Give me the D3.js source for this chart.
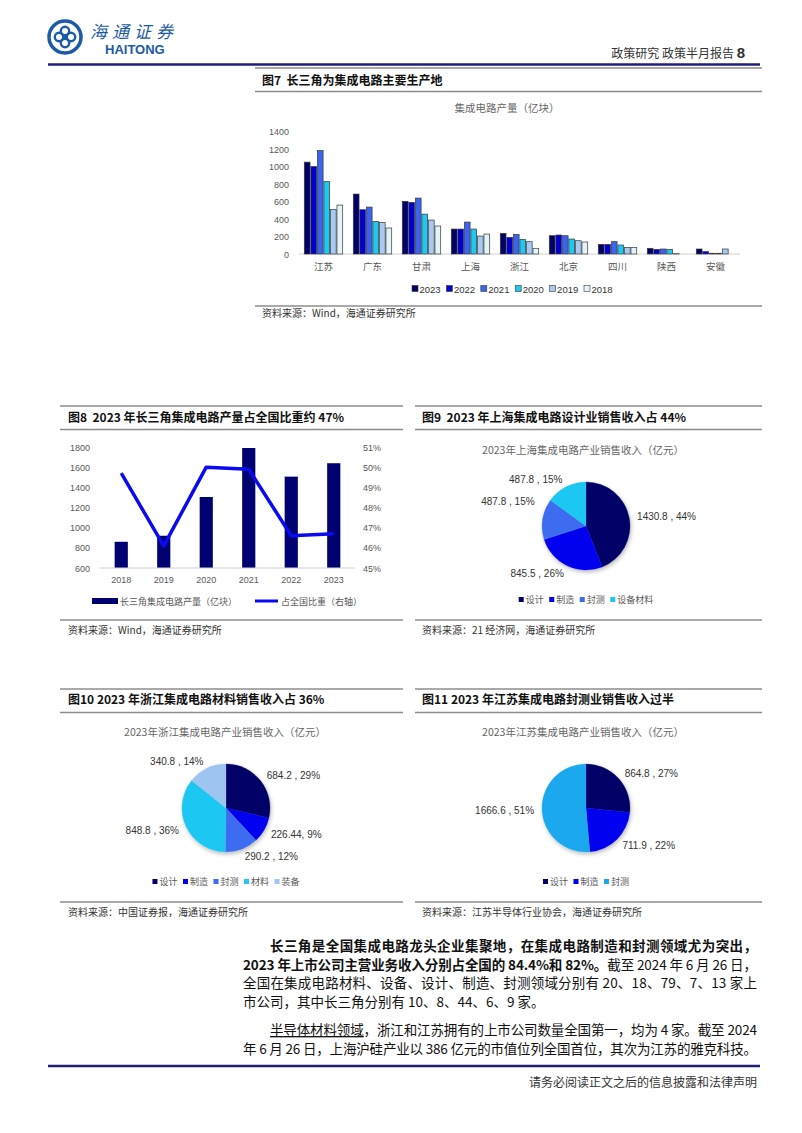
<!DOCTYPE html>
<html><head><meta charset="utf-8">
<script src="https://cdn.jsdelivr.net/npm/d3@7"></script>
<style>
body{margin:0;background:#fff;}
svg{display:block;}
text{font-family:"Liberation Sans","Noto Sans CJK SC",sans-serif;white-space:pre;}
.cjk{font-family:"Noto Sans CJK SC","Liberation Sans",sans-serif;}
</style></head><body>
<svg id="page" width="802" height="1133"></svg>
<script>
// ---------------- DATA ----------------
// Fig 7
const provinces = ["江苏","广东","甘肃","上海","浙江","北京","四川","陕西","安徽"];
const years7 = ["2023","2022","2021","2020","2019","2018"];
const out2023 = [1050,685,601,285,236,209,110,65,57];
const out2022 = [1000,506,590,285,190,217,110,53,27];
const out2021 = [1183,536,639,365,224,209,141,57,8];
const out2020 = [829,373,456,285,167,171,103,53,8];
const out2019 = [510,361,388,205,141,152,76,4,57];
const out2018 = [559,297,320,228,65,137,76,0,0];
const ticks7 = [0,200,400,600,800,1000,1200,1400];
// Fig 8
const years8 = ["2018","2019","2020","2021","2022","2023"];
const yrdOutput = [860,920,1304,1790,1506,1639];
const yrdShare = [49.7,46.1,50.0,49.9,46.6,46.7];
const ticks8Left = [600,800,1000,1200,1400,1600,1800];
const ticks8Right = [45,46,47,48,49,50,51];
// Fig 9
const shCats = ["设计","制造","封测","设备材料"];
const shValues = [1430.8,845.5,487.8,487.8];
const shLabels = ["1430.8 , 44%","845.5 , 26%","487.8 , 15%","487.8 , 15%"];
// Fig 10
const zjCats = ["设计","制造","封测","材料","装备"];
const zjValues = [684.2,226.44,290.2,848.8,340.8];
const zjLabels = ["684.2 , 29%","226.44, 9%","290.2 , 12%","848.8 , 36%","340.8 , 14%"];
// Fig 11
const jsCats = ["设计","制造","封测"];
const jsValues = [864.8,711.9,1666.6];
const jsLabels = ["864.8 , 27%","711.9 , 22%","1666.6 , 51%"];

// ---------------- STYLE ----------------
const C = {navy:"#000066", blue:"#0000EE", mid:"#3366F0", cyan:"#1EC8F2", light:"#9EC4F2", sky:"#1AA8EE"};
const colors7 = ["#000066","#0000D0","#3A64EC","#1EC8EE","#A8CAF0","#E2F4F8"];
const gray = "#595959";
const svg = d3.select("#page");

function hline(x1,x2,y,color,w){svg.append("line").attr("x1",x1).attr("x2",x2).attr("y1",y).attr("y2",y).attr("stroke",color).attr("stroke-width",w);}
function txt(x,y,s,opts={}){
  const t=svg.append("text").attr("x",x).attr("y",y).text(s)
    .attr("font-size",opts.size||10).attr("fill",opts.fill||"#333")
    .attr("text-anchor",opts.anchor||"start");
  if(opts.cjk) t.attr("class","cjk");
  if(opts.bold) t.attr("font-weight","bold");
  return t;
}

// shadow filter
const defs = svg.append("defs");
const f = defs.append("filter").attr("id","sh").attr("x","-30%").attr("y","-30%").attr("width","160%").attr("height","160%");
f.append("feDropShadow").attr("dx",1).attr("dy",2).attr("stdDeviation",2).attr("flood-color","#000").attr("flood-opacity",0.28);

// ---------------- HEADER ----------------
const logo = svg.append("g").attr("transform","translate(65,37)");
logo.append("circle").attr("r",16).attr("fill","none").attr("stroke","#1b5ba6").attr("stroke-width",3.5);
[[0,-6],[6,0],[0,6],[-6,0]].forEach(p=>logo.append("circle").attr("cx",p[0]).attr("cy",p[1]).attr("r",4.2).attr("fill","none").attr("stroke","#1b5ba6").attr("stroke-width",2.4));
logo.append("circle").attr("r",2).attr("fill","#1b5ba6");
txt(90,38,"海通证券",{size:17,fill:"#1b5ba6",cjk:true}).attr("font-style","italic").attr("letter-spacing",5);
txt(105,54,"HAITONG",{size:13,fill:"#1b5ba6",bold:true});
const hr = txt(745,58,"",{size:12,fill:"#333",anchor:"end",cjk:true});
hr.append("tspan").text("政策研究 政策半月报告 ");
hr.append("tspan").text("8").attr("font-weight","bold").attr("font-size",15).attr("font-family","Liberation Sans");
hline(48,760,64.5,"#1f1f78",2.5);

// ---------------- FIG 7 ----------------
hline(255,762,68,"#8c8c8c",1.5);
txt(262,85,"图7  长三角为集成电路主要生产地",{size:12,fill:"#111",bold:true,cjk:true});
hline(255,762,91.5,"#8c8c8c",1.5);
txt(507,112,"集成电路产量（亿块）",{size:10.5,fill:"#666",anchor:"middle",cjk:true});
const y7 = d3.scaleLinear().domain([0,1400]).range([254,131.5]);
const x7 = d3.scaleBand().domain(provinces).range([299,740]).paddingInner(0.2).paddingOuter(0.1);
const xi7 = d3.scaleBand().domain(years7).range([0,x7.bandwidth()]);
const series7 = [out2023,out2022,out2021,out2020,out2019,out2018];
ticks7.forEach(t=>txt(289,y7(t)+3.5,t,{size:9,fill:gray,anchor:"end"}));
hline(299,740,y7(0),"#d0d0d0",1);
years7.forEach((yr,si)=>{
  svg.append("g").selectAll("rect").data(provinces).join("rect")
    .attr("x",(p)=>x7(p)+xi7(yr)+0.4)
    .attr("width",xi7.bandwidth()-0.8)
    .attr("y",(p,i)=>y7(series7[si][i]))
    .attr("height",(p,i)=>y7(0)-y7(series7[si][i]))
    .attr("fill",colors7[si]).attr("stroke","#3a3a3a").attr("stroke-width",0.7);
});
provinces.forEach(p=>txt(x7(p)+x7.bandwidth()/2,270,p,{size:9.5,fill:gray,anchor:"middle",cjk:true}));
// legend
{
  let lx = 412; const ly = 289;
  years7.forEach((yr,i)=>{
    svg.append("rect").attr("x",lx).attr("y",ly-3.5).attr("width",6).attr("height",6).attr("fill",colors7[i]).attr("stroke","#3a3a3a").attr("stroke-width",0.6);
    txt(lx+7.5,ly+3.5,yr,{size:9.5,fill:"#333"});
    lx += 34.4;
  });
}
hline(255,762,306,"#8c8c8c",1.5);
txt(262,317,"资料来源：Wind，海通证券研究所",{size:10,fill:"#333",cjk:true});

// ---------------- FIG 8 ----------------
hline(60,403,406,"#8c8c8c",1.5);
txt(68,422,"图8  2023 年长三角集成电路产量占全国比重约 47%",{size:12,fill:"#111",bold:true,cjk:true});
hline(60,403,429.5,"#8c8c8c",1.5);
const x8 = d3.scaleBand().domain(years8).range([100,355]).paddingInner(0.69).paddingOuter(0.345);
const y8L = d3.scaleLinear().domain([600,1800]).range([568,447]);
const y8R = d3.scaleLinear().domain([45,51]).range([568,447]);
ticks8Left.forEach(t=>txt(90,y8L(t)+3.5,t,{size:9,fill:gray,anchor:"end"}));
ticks8Right.forEach(t=>txt(363,y8R(t)+3.5,t+"%",{size:9,fill:gray}));
svg.append("g").selectAll("rect").data(years8).join("rect")
  .attr("x",d=>x8(d)).attr("width",x8.bandwidth())
  .attr("y",(d,i)=>y8L(yrdOutput[i])).attr("height",(d,i)=>y8L(600)-y8L(yrdOutput[i]))
  .attr("fill","#000070");
hline(100,355,568,"#d0d0d0",1);
svg.append("path").datum(yrdShare)
  .attr("d",d3.line().x((d,i)=>x8(years8[i])+x8.bandwidth()/2).y(d=>y8R(d)))
  .attr("fill","none").attr("stroke","#0A0AF0").attr("stroke-width",3.5).attr("stroke-linejoin","round");
years8.forEach(d=>txt(x8(d)+x8.bandwidth()/2,583,d,{size:9,fill:gray,anchor:"middle"}));
svg.append("rect").attr("x",92).attr("y",598).attr("width",26).attr("height",6).attr("fill","#000070");
txt(120,604.5,"长三角集成电路产量（亿块）",{size:9,fill:gray,cjk:true});
hline(255,278,601,"#0A0AF0",3);
txt(281,604.5,"占全国比重（右轴）",{size:9,fill:gray,cjk:true});
hline(60,403,620,"#8c8c8c",1.5);
txt(68,634,"资料来源：Wind，海通证券研究所",{size:10,fill:"#333",cjk:true});

// ---------------- PIE helper ----------------
function drawPie(cx,cy,cats,values,labels,cols,nudges){
  const pie = d3.pie().sort(null).value(d=>d)(values);
  const arc = d3.arc().innerRadius(0).outerRadius(44);
  const lab = d3.arc().innerRadius(52).outerRadius(52);
  const g = svg.append("g").attr("transform",`translate(${cx},${cy})`);
  g.append("g").attr("filter","url(#sh)").selectAll("path").data(pie).join("path")
    .attr("d",arc).attr("fill",(d,i)=>cols[i]).attr("stroke",(d,i)=>cols[i]).attr("stroke-width",0.3);
  pie.forEach((d,i)=>{
    const c = lab.centroid(d);
    const dy = (nudges&&nudges[i])||0;
    txt(cx+c[0],cy+c[1]+dy+3.5,labels[i],{size:10,fill:"#333",anchor:c[0]>=0?"start":"end"});
  });
}
function drawLegend(cx,y,cats,cols){
  const g = svg.append("g");
  let x=0;
  cats.forEach((c,i)=>{
    g.append("rect").attr("x",x).attr("y",y-4).attr("width",5).attr("height",5).attr("fill",cols[i]);
    const t = g.append("text").attr("class","cjk").attr("x",x+7).attr("y",y+1.5).attr("font-size",9).attr("fill",gray).text(c);
    x += 7 + t.node().getComputedTextLength() + 5.5;
  });
  const w = x-5.5;
  g.attr("transform",`translate(${cx-w/2},0)`);
}

// ---------------- FIG 9 ----------------
hline(415,762,406,"#8c8c8c",1.5);
txt(422,422,"图9  2023 年上海集成电路设计业销售收入占 44%",{size:12,fill:"#111",bold:true,cjk:true});
hline(415,762,429.5,"#8c8c8c",1.5);
txt(583,454,"2023年上海集成电路产业销售收入（亿元）",{size:10.5,fill:"#666",anchor:"middle",cjk:true});
const cols9=[C.navy,C.blue,"#3D6CF0",C.cyan];
drawPie(586,526,shCats,shValues,shLabels,cols9,[0,0,-16,0]);
drawLegend(586,601,shCats,cols9);
hline(415,762,620,"#8c8c8c",1.5);
txt(422,634,"资料来源：21 经济网，海通证券研究所",{size:10,fill:"#333",cjk:true});

// ---------------- FIG 10 ----------------
hline(60,403,689,"#8c8c8c",1.5);
txt(68,704,"图10 2023 年浙江集成电路材料销售收入占 36%",{size:12,fill:"#111",bold:true,cjk:true});
hline(60,403,712.5,"#8c8c8c",1.5);
txt(225,736,"2023年浙江集成电路产业销售收入（亿元）",{size:10.5,fill:"#666",anchor:"middle",cjk:true});
const cols10=[C.navy,C.blue,"#3D6CF0",C.cyan,C.light];
drawPie(226,808,zjCats,zjValues,zjLabels,cols10);
drawLegend(226,883,zjCats,cols10);
hline(60,403,902,"#8c8c8c",1.5);
txt(68,916,"资料来源：中国证券报，海通证券研究所",{size:10,fill:"#333",cjk:true});

// ---------------- FIG 11 ----------------
hline(415,762,689,"#8c8c8c",1.5);
txt(422,704,"图11 2023 年江苏集成电路封测业销售收入过半",{size:12,fill:"#111",bold:true,cjk:true});
hline(415,762,712.5,"#8c8c8c",1.5);
txt(583,736,"2023年江苏集成电路产业销售收入（亿元）",{size:10.5,fill:"#666",anchor:"middle",cjk:true});
const cols11=[C.navy,C.blue,C.sky];
drawPie(586,808,jsCats,jsValues,jsLabels,cols11);
drawLegend(586,883,jsCats,cols11);
hline(415,762,902,"#8c8c8c",1.5);
txt(422,916,"资料来源：江苏半导体行业协会，海通证券研究所",{size:10,fill:"#333",cjk:true});

// ---------------- BODY TEXT ----------------
function bodyLine(x,y,w,parts){
  const t = svg.append("text").attr("class","cjk").attr("x",x).attr("y",y).attr("font-size",13.5).attr("fill","#111").style("white-space","normal");
  parts.forEach(p=>{
    const s=t.append("tspan").text(p.t);
    if(p.b) s.attr("font-weight","bold");
    if(p.u) s.attr("text-decoration","underline");
  });
  if(w) t.attr("textLength",w).attr("lengthAdjust","spacing");
  return t;
}
bodyLine(270,951,487,[{t:"长三角是全国集成电路龙头企业集聚地，在集成电路制造和封测领域尤为突出，",b:true}]);
bodyLine(243,969.5,514,[{t:"2023 年上市公司主营业务收入分别占全国的 84.4%和 82%。",b:true},{t:"截至 2024 年 6 月 26 日，"}]);
bodyLine(243,988,514,[{t:"全国在集成电路材料、设备、设计、制造、封测领域分别有 20、18、79、7、13 家上"}]);
bodyLine(243,1006.5,0,[{t:"市公司，其中长三角分别有 10、8、44、6、9 家。"}]);
bodyLine(270,1035,487,[{t:"半导体材料领域",u:true},{t:"，浙江和江苏拥有的上市公司数量全国第一，均为 4 家。截至 2024"}]);
bodyLine(243,1054,514,[{t:"年 6 月 26 日，上海沪硅产业以 386 亿元的市值位列全国首位，其次为江苏的雅克科技。"}]);
hline(48,760,1066,"#1f1f78",2.5);
txt(757,1087,"请务必阅读正文之后的信息披露和法律声明",{size:12,fill:"#333",anchor:"end",cjk:true});
</script>
</body></html>
